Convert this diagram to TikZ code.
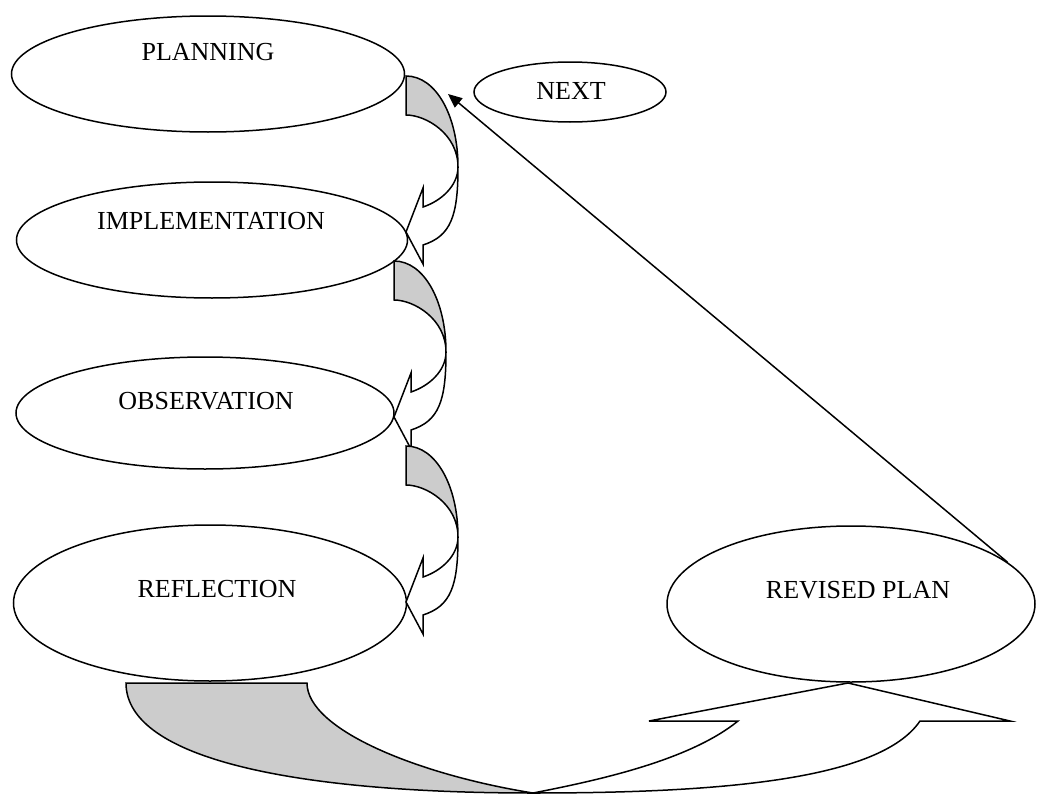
\documentclass[tikz,border=0pt]{standalone}
\usepackage{fontspec}
\setmainfont{Liberation Serif}
\usetikzlibrary{shapes.geometric,arrows.meta}

\tikzset{
  stage/.style={ellipse, draw, line width=1.5pt, inner sep=0pt},
  stagetext/.style={font=\fontsize{26}{30}\selectfont},
  band/.style={draw, line width=1.5pt, line join=miter},
}

\begin{document}
\begin{tikzpicture}[x=1pt, y=-1pt]
  \useasboundingbox (0,0) rectangle (1053,795);

  % Ellipses of the cycle
  \node[stage, minimum width=393, minimum height=116] (planning) at (208,74) {};
  \node[stage, minimum width=391, minimum height=116] (implementation) at (212,240) {};
  \node[stage, minimum width=378, minimum height=112] (observation) at (205,413) {};
  \node[stage, minimum width=393, minimum height=156] (reflection) at (210,603) {};
  \node[stage, minimum width=368, minimum height=156] (revised) at (851,604) {};
  \node[stage, minimum width=192, minimum height=60] (next) at (570,92) {};

  % Labels
  \node[stagetext] (planningtext) at (208,52) {PLANNING};
  \node[stagetext] (implementationtext) at (211,221) {IMPLEMENTATION};
  \node[stagetext] (observationtext) at (206,401) {OBSERVATION};
  \node[stagetext] (reflectiontext) at (217,589) {REFLECTION};
  \node[stagetext] (revisedtext) at (858,590) {REVISED PLAN};
  \node[stagetext] (nexttext) at (571,91) {NEXT};

  % Curved arrows down the cycle
  \foreach \dx/\dy in {406/76, 394/261, 406/446} {
    \begin{scope}[shift={(\dx,\dy)}]
      \filldraw[band, fill=black!20] (0,0) .. controls (30,0) and (52,40) .. (52,91)
        .. controls (52,58) and (20,39) .. (0,39) -- cycle;
      \filldraw[band, fill=white] (52,91) .. controls (52,110) and (35,125) .. (17,131)
        -- (17,112) -- (0,156) -- (17,188) -- (17,169)
        .. controls (45,160) and (52,140) .. (52,91) -- cycle;
    \end{scope}
  }

  % Curved arrow up to the revised plan
  \filldraw[band, fill=black!20] (126,683) .. controls (126,760) and (300,793) .. (533,793)
    .. controls (420,775) and (307,730) .. (307,683) -- cycle;
  \filldraw[band, fill=white] (533,793) .. controls (600,780) and (690,760) .. (738,721)
    -- (649,721) -- (848,683) -- (1010,721) -- (920,721)
    .. controls (880,780) and (720,793) .. (533,793) -- cycle;

  % Back to planning
  \coordinate (nexttip) at (448,94);
  \draw[line width=1.5pt, -{Triangle[length=14pt,width=12pt]}] (revised.15) -- (nexttip);

\end{tikzpicture}
\end{document}
